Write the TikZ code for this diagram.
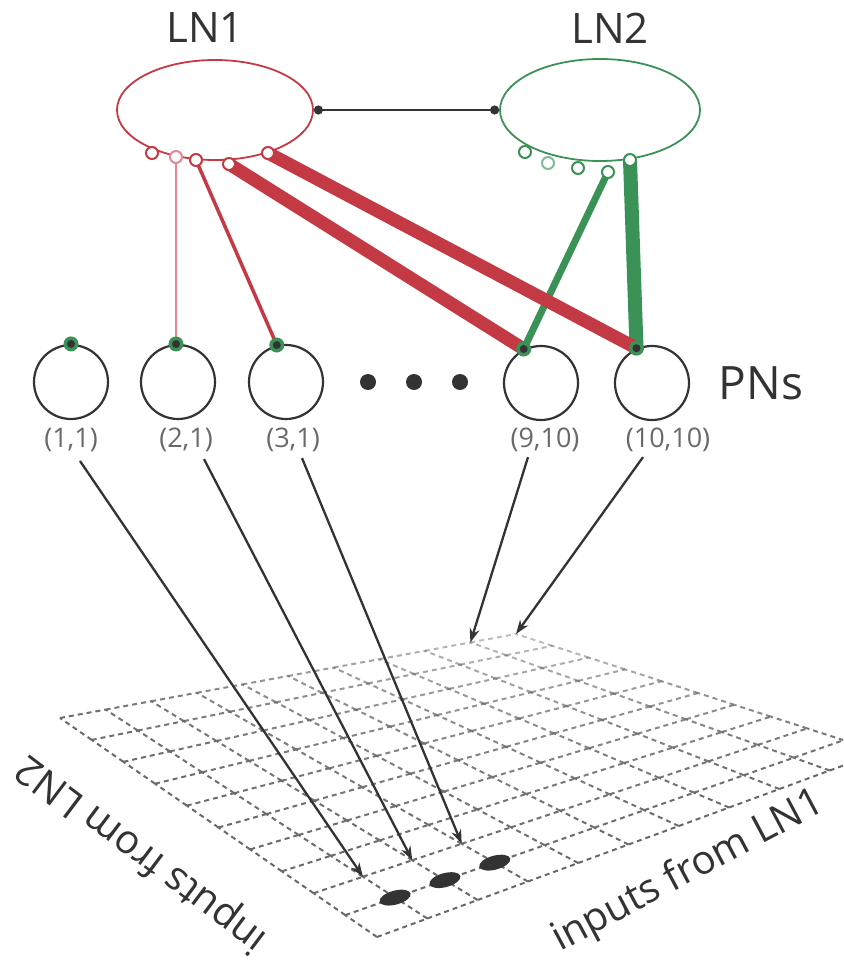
\documentclass[tikz,border=0pt]{standalone}
\usepackage{fontspec}
\setmainfont{Open Sans}
\usetikzlibrary{calc,arrows.meta,shapes.geometric}
\definecolor{lnred}{RGB}{196,58,68}
\definecolor{lnpink}{RGB}{224,138,148}
\definecolor{lngreen}{RGB}{58,146,86}
\definecolor{lnlightgreen}{RGB}{128,188,148}
\definecolor{ink}{RGB}{51,51,51}
\definecolor{gridgray}{RGB}{105,105,105}
\definecolor{labelgray}{RGB}{105,105,105}
% named grid point: #1 name, #2 u (along B->R), #3 v (along B->L)
\newcommand{\mkgridpt}[3]{%
  \path ($(B)!#2!(R)$) coordinate (tmpA) ($(L)!#2!(T)$) coordinate (tmpB)
        ($(tmpA)!#3!(tmpB)$) coordinate (#1);}
\begin{document}
\begin{tikzpicture}[x=1pt,y=-1pt,
  lnell/.style={ellipse, inner sep=0pt, line width=1.8pt},
  title/.style={font=\fontsize{42}{42}\selectfont, text=ink, inner sep=0pt},
  port/.style={circle, minimum size=12pt, inner sep=0pt, fill=white, line width=2pt},
  pncirc/.style={circle, draw=ink, line width=2.2pt, minimum size=74pt, inner sep=0pt},
  pndot/.style={circle, fill=lngreen, minimum size=15pt, inner sep=0pt,
    path picture={\fill[ink] (path picture bounding box.center) circle (4pt);}},
  edot/.style={circle, fill=ink, minimum size=16pt, inner sep=0pt},
  pnlabel/.style={font=\fontsize{27}{27}\selectfont, text=labelgray, inner sep=0pt},
  axislabel/.style={font=\fontsize{40}{40}\selectfont, text=ink, inner sep=0pt},
  gridline/.style={draw=gridgray, line width=2pt, dash pattern=on 5pt off 4pt},
  blob/.style={ellipse, fill=ink, minimum width=32pt, minimum height=14pt, inner sep=0pt},
  feed/.style={draw=ink, line width=2.3pt, -{Stealth[length=14pt,width=10pt]}}
]
\useasboundingbox (0,0) rectangle (843,963);
\clip (0,0) rectangle (843,963);

% ---------- grid corners ----------
\coordinate (B) at (377,937);
\coordinate (R) at (880,752);
\coordinate (L) at (60,718);
\coordinate (T) at (516,634);

% ---------- perspective grid ----------
\foreach \i in {0,...,10} {
  \foreach \j in {0,...,9} {
    \pgfmathsetmacro{\uu}{\i/10}
    \pgfmathsetmacro{\va}{\j/10}
    \pgfmathsetmacro{\vb}{(\j+1)/10}
    \pgfmathsetmacro{\op}{1-0.6*\i*(\j+0.5)/100}
    \path ($(B)!\uu!(R)$) coordinate (ea) ($(L)!\uu!(T)$) coordinate (eb);
    \draw[gridline, opacity=\op] ($(ea)!\va!(eb)$) -- ($(ea)!\vb!(eb)$);
    \path ($(B)!\uu!(L)$) coordinate (fa) ($(R)!\uu!(T)$) coordinate (fb);
    \draw[gridline, opacity=\op] ($(fa)!\va!(fb)$) -- ($(fa)!\vb!(fb)$);
  }
}

% ---------- grid points used ----------
\mkgridpt{q1}{0.1}{0.1}
\mkgridpt{q2}{0.2}{0.1}
\mkgridpt{q3}{0.3}{0.1}
\mkgridpt{g1}{0.1}{0.2}
\mkgridpt{g2}{0.2}{0.2}
\mkgridpt{g3}{0.3}{0.2}
\mkgridpt{g9}{0.9}{1.0}
\coordinate (g10) at (T);

% ---------- input blobs ----------
\node[blob, rotate=15] (k1) at (q1) {};
\node[blob, rotate=15] (k2) at (q2) {};
\node[blob, rotate=15] (k3) at (q3) {};

% ---------- axis labels ----------
\node[axislabel, rotate=143] (inl2) at (142,853) {inputs from LN2};
\node[axislabel, rotate=28, anchor=base west] (inl1) at (560,952) {inputs from LN1};

% ---------- LN ellipses ----------
\node[title] (t1) at (205,28) {LN1};
\node[title] (t2) at (610,28) {LN2};
\node[lnell, draw=lnred, minimum width=196pt, minimum height=100pt] (ln1) at (215,110) {};
\node[lnell, draw=lngreen, minimum width=200pt, minimum height=102pt] (ln2) at (600,110) {};
\draw[ink, line width=2.5pt, {Circle[length=9pt]}-{Circle[length=9pt]}] (ln1.east) -- (ln2.west);

% ---------- PN circles ----------
\node[pncirc] (p1) at (71,382) {};
\node[pncirc] (p2) at (178,382) {};
\node[pncirc] (p3) at (286,382) {};
\node[pncirc] (p9) at (541,383) {};
\node[pncirc] (p10) at (652,383) {};
\coordinate (d1) at (p1.90);
\coordinate (d2) at (p2.93);
\coordinate (d3) at (p3.104);
\coordinate (d9) at (p9.117);
\coordinate (d10) at (p10.114);

% ---------- ports (positions) ----------
\coordinate (a1) at (152,153);
\coordinate (a2) at (176,157);
\coordinate (a3) at (196,160);
\coordinate (a4) at (229,164);
\coordinate (a5) at (268,153);
\coordinate (b1) at (525,152);
\coordinate (b2) at (548,163);
\coordinate (b3) at (578,168);
\coordinate (b4) at (608,172);
\coordinate (b5) at (630,160);

% ---------- LN -> PN connections ----------
\draw[lngreen, line width=7pt] (b4) -- (d9);
\draw[lngreen, line width=14pt] (b5) -- (d10);
\draw[lnpink, line width=2pt] (a2) -- (d2);
\draw[lnred, line width=3.5pt] (a3) -- (d3);
\draw[lnred, line width=13pt] (a4) -- (d9);
\draw[lnred, line width=13pt] (a5) -- (d10);

% ---------- port circles ----------
\node[port, draw=lnred] (pa1) at (a1) {};
\node[port, draw=lnpink] (pa2) at (a2) {};
\node[port, draw=lnred] (pa3) at (a3) {};
\node[port, draw=lnred] (pa4) at (a4) {};
\node[port, draw=lnred] (pa5) at (a5) {};
\node[port, draw=lngreen] (pb1) at (b1) {};
\node[port, draw=lnlightgreen] (pb2) at (b2) {};
\node[port, draw=lngreen] (pb3) at (b3) {};
\node[port, draw=lngreen] (pb4) at (b4) {};
\node[port, draw=lngreen] (pb5) at (b5) {};

% ---------- synapse dots on PNs ----------
\node[pndot] (s1) at (d1) {};
\node[pndot] (s2) at (d2) {};
\node[pndot] (s3) at (d3) {};
\node[pndot] (s9) at (d9) {};
\node[pndot] (s10) at (d10) {};

% ---------- ellipsis ----------
\node[edot] (e1) at (368,382) {};
\node[edot] (e2) at (414,382) {};
\node[edot] (e3) at (460,382) {};

\node[font=\fontsize{46}{46}\selectfont, text=ink, inner sep=0pt] (pns) at (761,383) {PNs};

% ---------- PN labels ----------
\node[pnlabel] (l1) at (71,440) {(1,1)};
\node[pnlabel] (l2) at (186,440) {(2,1)};
\node[pnlabel] (l3) at (293,440) {(3,1)};
\node[pnlabel] (l9) at (545,440) {(9,10)};
\node[pnlabel] (l10) at (668,440) {(10,10)};

% ---------- feed-forward arrows ----------
\coordinate (f1) at ($(l1.south)+(9,9)$);
\coordinate (f2) at ($(l2.south)+(18,7)$);
\coordinate (f3) at ($(l3.south)+(9,6)$);
\coordinate (f9) at ($(l9.south)+(-17,5)$);
\coordinate (f10) at ($(l10.south)+(-25,5)$);
\draw[feed] (f1) -- (g1);
\draw[feed] (f2) -- (g2);
\draw[feed] (f3) -- (g3);
\draw[feed] (f9) -- (g9);
\draw[feed] (f10) -- (g10);
\end{tikzpicture}
\end{document}
